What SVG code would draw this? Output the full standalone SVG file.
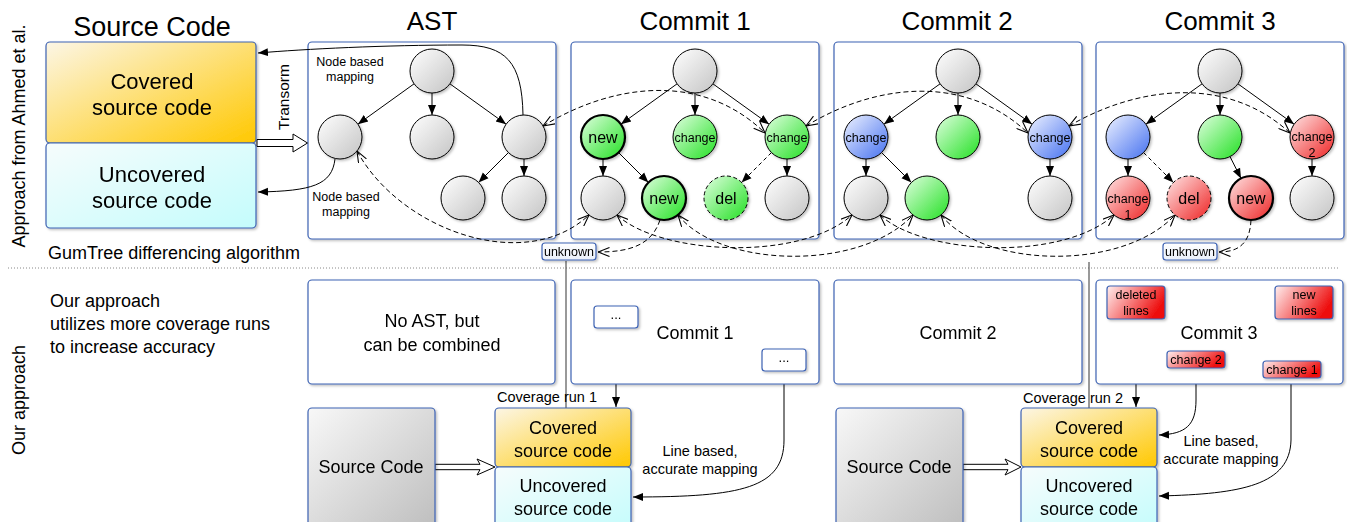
<svg xmlns="http://www.w3.org/2000/svg" width="1347" height="522" viewBox="0 0 1347 522">
<style>
.t{font-family:"Liberation Sans",Arial,sans-serif;fill:#000}
.box{stroke:#3d62b3;stroke-width:1.2}
.nd{stroke:#000;stroke-width:1}
.thick{stroke-width:2.2}
.dsh{stroke-dasharray:4 2.5}
.e{stroke:#000;stroke-width:1;fill:none;marker-end:url(#ah)}
.ed{stroke:#000;stroke-width:1;fill:none;stroke-dasharray:4 3;marker-end:url(#ah)}
.m{stroke:#000;stroke-width:1;fill:none;stroke-dasharray:5 3;marker-end:url(#oa);marker-start:url(#oa)}
.m1{stroke:#000;stroke-width:1;fill:none;stroke-dasharray:5 3;marker-end:url(#oa)}
.ha{fill:#fff;stroke:#000;stroke-width:1}
.sep{stroke:#555;stroke-width:1.2}
.n16{font-size:16px}
.n12{font-size:12.5px}
</style>
<defs>
<linearGradient id="gGray" x1="0" y1="0" x2="1" y2="1"><stop offset="0" stop-color="#ffffff"/><stop offset="1" stop-color="#c4c4c4"/></linearGradient>
<linearGradient id="gGreen" x1="0" y1="0" x2="1" y2="1"><stop offset="0" stop-color="#e0ffe0"/><stop offset="1" stop-color="#22e022"/></linearGradient>
<linearGradient id="gBlue" x1="0" y1="0" x2="1" y2="1"><stop offset="0" stop-color="#eef2ff"/><stop offset="1" stop-color="#4470f0"/></linearGradient>
<linearGradient id="gRed" x1="0" y1="0" x2="1" y2="1"><stop offset="0" stop-color="#ffe6e6"/><stop offset="1" stop-color="#ee2424"/></linearGradient>
<linearGradient id="gCov" x1="0" y1="0" x2="1" y2="1"><stop offset="0" stop-color="#fcf6e6"/><stop offset="1" stop-color="#ffc800"/></linearGradient>
<linearGradient id="gUnc" x1="0" y1="0" x2="1" y2="1"><stop offset="0" stop-color="#f6fcfc"/><stop offset="1" stop-color="#c4fcfc"/></linearGradient>
<linearGradient id="gSrc" x1="0" y1="0" x2="1" y2="1"><stop offset="0" stop-color="#f8f8f8"/><stop offset="1" stop-color="#bdbdbd"/></linearGradient>
<linearGradient id="gRb" x1="0" y1="0" x2="1" y2="0.4"><stop offset="0" stop-color="#fff0f0"/><stop offset="1" stop-color="#ee1010"/></linearGradient>
<linearGradient id="gUnk" x1="0" y1="0" x2="0" y2="1"><stop offset="0" stop-color="#ffffff"/><stop offset="1" stop-color="#eaf0fa"/></linearGradient>
<filter id="sh" x="-20%" y="-20%" width="150%" height="150%"><feDropShadow dx="1.5" dy="1.5" stdDeviation="1.2" flood-color="#000" flood-opacity="0.25"/></filter>
<marker id="ah" viewBox="0 0 10 10" refX="10" refY="5" markerWidth="10" markerHeight="10" orient="auto" markerUnits="userSpaceOnUse"><path d="M0,1 L10,5 L0,9 Z" fill="#000"/></marker>
<marker id="oa" viewBox="0 0 12 10" refX="11.5" refY="5" markerWidth="12" markerHeight="10" orient="auto-start-reverse" markerUnits="userSpaceOnUse"><path d="M0,0.5 L11.5,5 L0,9.5" fill="none" stroke="#000" stroke-width="1.1"/></marker>
</defs>
<rect width="1347" height="522" fill="#fff"/>

<!-- side labels -->
<text class="t" font-size="18" text-anchor="middle" transform="translate(25,136) rotate(-90)">Approach from Ahmed et al.</text>
<text class="t" font-size="18" text-anchor="middle" transform="translate(25,400) rotate(-90)">Our approach</text>
<text class="t" x="48" y="259" font-size="18">GumTree differencing algorithm</text>
<line x1="8" y1="268" x2="1340" y2="268" stroke="#888" stroke-width="1" stroke-dasharray="1 2"/>
<g id="ourText">
<text class="t" font-size="18"><tspan x="50" y="307">Our approach</tspan><tspan x="50" y="330">utilizes more coverage runs</tspan><tspan x="50" y="353">to increase accuracy</tspan></text>
</g>

<!-- titles -->
<text class="t" x="152" y="36" font-size="27" text-anchor="middle">Source Code</text>
<text class="t" x="432" y="30" font-size="26" text-anchor="middle">AST</text>
<text class="t" x="695" y="30" font-size="26" text-anchor="middle">Commit 1</text>
<text class="t" x="957" y="30" font-size="26" text-anchor="middle">Commit 2</text>
<text class="t" x="1220" y="30" font-size="26" text-anchor="middle">Commit 3</text>

<!-- top source code -->
<g id="covTop" filter="url(#sh)">
<rect class="box" x="46" y="42" width="210" height="101" rx="4" fill="url(#gCov)"/>
<text class="t" font-size="22" text-anchor="middle"><tspan x="152" y="89">Covered</tspan><tspan x="152" y="115">source code</tspan></text>
</g>
<g id="uncTop" filter="url(#sh)">
<rect class="box" x="46" y="143" width="210" height="85" rx="4" fill="url(#gUnc)"/>
<text class="t" font-size="22" text-anchor="middle"><tspan x="152" y="182">Uncovered</tspan><tspan x="152" y="208">source code</tspan></text>
</g>

<!-- panels -->
<g id="astBox"><rect class="box" x="308" y="42" width="248" height="197" rx="4" fill="#fff" filter="url(#sh)"/></g>
<g id="c1Box"><rect class="box" x="571" y="42" width="248" height="197" rx="4" fill="#fff" filter="url(#sh)"/></g>
<g id="c2Box"><rect class="box" x="834" y="42" width="248" height="197" rx="4" fill="#fff" filter="url(#sh)"/></g>
<g id="c3Box"><rect class="box" x="1096" y="42" width="248" height="197" rx="4" fill="#fff" filter="url(#sh)"/></g>

<!-- connectors -->
<g id="connectors">
<!-- AST tree -->
<path class="e" d="M414.1,83.8 L357.9,124.2"/>
<path class="e" d="M432,93 L432,115"/>
<path class="e" d="M449.9,83.8 L506.1,124.2"/>
<path class="e" d="M508.4,152.6 L478.6,182.4"/>
<path class="e" d="M524,159 L524,176"/>
<!-- Commit 1 tree -->
<path class="e" d="M677.1,83.8 L620.9,124.2"/>
<path class="e" d="M695,93 L695,115"/>
<path class="e" d="M712.9,83.8 L769.1,124.2"/>
<path class="e" d="M603,159 L603,176"/>
<path class="e" d="M618.6,152.6 L648.4,182.4"/>
<path class="ed" d="M771.4,152.6 L741.6,182.4"/>
<path class="e" d="M787,159 L787,176"/>
<!-- Commit 2 tree -->
<path class="e" d="M940.1,83.8 L883.9,124.2"/>
<path class="e" d="M958,93 L958,115"/>
<path class="e" d="M975.9,83.8 L1032.1,124.2"/>
<path class="e" d="M866,159 L866,176"/>
<path class="e" d="M881.6,152.6 L911.4,182.4"/>
<path class="e" d="M1050,159 L1050,176"/>
<!-- Commit 3 tree -->
<path class="e" d="M1202.1,83.8 L1145.9,124.2"/>
<path class="e" d="M1220,93 L1220,115"/>
<path class="e" d="M1237.9,83.8 L1294.1,124.2"/>
<path class="e" d="M1128,159 L1128,176"/>
<path class="ed" d="M1143.6,152.6 L1173.4,182.4"/>
<path class="e" d="M1230,156.6 L1241,178.4"/>
<path class="e" d="M1312,159 L1312,176"/>
<!-- node based mappings to source -->
<path class="e" d="M523,115 C522,62 506,45 462,45 C385,45 305,49 258,53"/>
<path class="e" d="M335,159 C332,185 312,191 258,192"/>
<!-- transform hollow arrow -->
<path class="ha" d="M257,139.5 L293,139.5 L293,134 L307.5,143 L293,152 L293,146.5 L257,146.5 Z"/>
<!-- dashed mappings top -->
<path class="m" d="M543,126 C610,85 700,70 765,133"/>
<path class="m" d="M806,126 C873,85 963,72 1028,133"/>
<path class="m" d="M1069,126 C1136,87 1226,74 1290,133"/>
<!-- dashed mappings bottom -->
<path class="m" d="M357,151 C400,230 525,275 589,215"/>
<path class="m" d="M617,215 C660,255 800,262 852,215"/>
<path class="m" d="M678,215 C720,268 860,272 913,215"/>
<path class="m" d="M880,215 C923,255 1062,262 1114,215"/>
<path class="m" d="M941,215 C983,268 1122,272 1175,215"/>
<path class="m1" d="M660,220 C652,244 632,252 598,252"/>
<path class="m1" d="M1251,220 C1250,244 1238,252 1219,252"/>
<!-- bottom section -->
<path class="sep" d="M566,261 L566,408"/>
<path class="sep" d="M1089,262 L1089,408"/>
<path class="e" d="M616,328 L616,407"/>
<path class="e" d="M784,371 L784,440 C784,488 742,497 633,497"/>
<path class="e" d="M1136,319 L1136,407"/>
<path class="e" d="M1196,368 L1196,400 C1196,425 1186,434 1159,435"/>
<path class="e" d="M1291,378 L1291,440 C1290,485 1242,494 1159,496"/>
<path class="ha" d="M435,464.3 L480,464.3 L477,459 L495,467 L477,475 L480,469.7 L435,469.7 Z"/>
<path class="ha" d="M963,464.3 L1008,464.3 L1005,459 L1021,467 L1005,475 L1008,469.7 L963,469.7 Z"/>
</g>

<!-- mapping labels -->
<text class="t" font-size="12.5" text-anchor="middle"><tspan x="350" y="66">Node based</tspan><tspan x="350" y="81">mapping</tspan></text>
<text class="t" font-size="12.5" text-anchor="middle"><tspan x="346" y="201">Node based</tspan><tspan x="346" y="216">mapping</tspan></text>
<text class="t" font-size="15.5" text-anchor="middle" transform="translate(289,97) rotate(-90)">Transorm</text>

<!-- AST nodes -->
<g id="ast_root" filter="url(#sh)"><circle class="nd" cx="432" cy="71" r="22" fill="url(#gGray)"/></g>
<g id="ast_m1" filter="url(#sh)"><circle class="nd" cx="340" cy="137" r="22" fill="url(#gGray)"/></g>
<g id="ast_m2" filter="url(#sh)"><circle class="nd" cx="432" cy="137" r="22" fill="url(#gGray)"/></g>
<g id="ast_m3" filter="url(#sh)"><circle class="nd" cx="524" cy="137" r="22" fill="url(#gGray)"/></g>
<g id="ast_b3" filter="url(#sh)"><circle class="nd" cx="463" cy="198" r="22" fill="url(#gGray)"/></g>
<g id="ast_b4" filter="url(#sh)"><circle class="nd" cx="524" cy="198" r="22" fill="url(#gGray)"/></g>

<!-- Commit 1 nodes -->
<g id="c1_root" filter="url(#sh)"><circle class="nd" cx="695" cy="71" r="22" fill="url(#gGray)"/></g>
<g id="c1_m1" filter="url(#sh)"><circle class="nd thick" cx="603" cy="137" r="22" fill="url(#gGreen)"/><text class="t n16" x="603" y="143" text-anchor="middle">new</text></g>
<g id="c1_m2" filter="url(#sh)"><circle class="nd" cx="695" cy="137" r="22" fill="url(#gGreen)"/><text class="t n12" x="695" y="141.5" text-anchor="middle">change</text></g>
<g id="c1_m3" filter="url(#sh)"><circle class="nd" cx="787" cy="137" r="22" fill="url(#gGreen)"/><text class="t n12" x="787" y="141.5" text-anchor="middle">change</text></g>
<g id="c1_b1" filter="url(#sh)"><circle class="nd" cx="603" cy="198" r="22" fill="url(#gGray)"/></g>
<g id="c1_b2" filter="url(#sh)"><circle class="nd thick" cx="664" cy="198" r="22" fill="url(#gGreen)"/><text class="t n16" x="664" y="204" text-anchor="middle">new</text></g>
<g id="c1_b3" filter="url(#sh)"><circle class="nd dsh" cx="726" cy="198" r="22" fill="url(#gGreen)"/><text class="t n16" x="726" y="204" text-anchor="middle">del</text></g>
<g id="c1_b4" filter="url(#sh)"><circle class="nd" cx="787" cy="198" r="22" fill="url(#gGray)"/></g>

<!-- Commit 2 nodes -->
<g id="c2_root" filter="url(#sh)"><circle class="nd" cx="958" cy="71" r="22" fill="url(#gGray)"/></g>
<g id="c2_m1" filter="url(#sh)"><circle class="nd" cx="866" cy="137" r="22" fill="url(#gBlue)"/><text class="t n12" x="866" y="141.5" text-anchor="middle">change</text></g>
<g id="c2_m2" filter="url(#sh)"><circle class="nd" cx="958" cy="137" r="22" fill="url(#gGreen)"/></g>
<g id="c2_m3" filter="url(#sh)"><circle class="nd" cx="1050" cy="137" r="22" fill="url(#gBlue)"/><text class="t n12" x="1050" y="141.5" text-anchor="middle">change</text></g>
<g id="c2_b1" filter="url(#sh)"><circle class="nd" cx="866" cy="198" r="22" fill="url(#gGray)"/></g>
<g id="c2_b2" filter="url(#sh)"><circle class="nd" cx="927" cy="198" r="22" fill="url(#gGreen)"/></g>
<g id="c2_b4" filter="url(#sh)"><circle class="nd" cx="1050" cy="198" r="22" fill="url(#gGray)"/></g>

<!-- Commit 3 nodes -->
<g id="c3_root" filter="url(#sh)"><circle class="nd" cx="1220" cy="71" r="22" fill="url(#gGray)"/></g>
<g id="c3_m1" filter="url(#sh)"><circle class="nd" cx="1128" cy="137" r="22" fill="url(#gBlue)"/></g>
<g id="c3_m2" filter="url(#sh)"><circle class="nd" cx="1220" cy="137" r="22" fill="url(#gGreen)"/></g>
<g id="c3_m3" filter="url(#sh)"><circle class="nd" cx="1312" cy="137" r="22" fill="url(#gRed)"/><text class="t n12" text-anchor="middle"><tspan x="1312" y="141">change</tspan><tspan x="1312" y="157">2</tspan></text></g>
<g id="c3_b1" filter="url(#sh)"><circle class="nd" cx="1128" cy="198" r="22" fill="url(#gRed)"/><text class="t n12" text-anchor="middle"><tspan x="1128" y="203">change</tspan><tspan x="1128" y="219">1</tspan></text></g>
<g id="c3_b2" filter="url(#sh)"><circle class="nd dsh" cx="1189" cy="198" r="22" fill="url(#gRed)"/><text class="t n16" x="1189" y="204" text-anchor="middle">del</text></g>
<g id="c3_b3" filter="url(#sh)"><circle class="nd thick" cx="1251" cy="198" r="22" fill="url(#gRed)"/><text class="t n16" x="1251" y="204" text-anchor="middle">new</text></g>
<g id="c3_b4" filter="url(#sh)"><circle class="nd" cx="1312" cy="198" r="22" fill="url(#gGray)"/></g>

<!-- unknown boxes -->
<g id="unk1" filter="url(#sh)"><rect class="box" x="542" y="243" width="54" height="17" rx="3" fill="url(#gUnk)"/><text class="t n12" x="569" y="256" text-anchor="middle">unknown</text></g>
<g id="unk2" filter="url(#sh)"><rect class="box" x="1163" y="243" width="54" height="17" rx="3" fill="url(#gUnk)"/><text class="t n12" x="1190" y="256" text-anchor="middle">unknown</text></g>

<!-- bottom panels -->
<g id="noAst" filter="url(#sh)"><rect class="box" x="308" y="280" width="247" height="104" rx="4" fill="#fff"/><text class="t" font-size="18" text-anchor="middle"><tspan x="432" y="327">No AST, but</tspan><tspan x="432" y="351">can be combined</tspan></text></g>
<g id="c1Bottom" filter="url(#sh)"><rect class="box" x="571" y="280" width="248" height="104" rx="4" fill="#fff"/><text class="t" x="695" y="339" font-size="18" text-anchor="middle">Commit 1</text></g>
<g id="c2Bottom" filter="url(#sh)"><rect class="box" x="834" y="280" width="248" height="104" rx="4" fill="#fff"/><text class="t" x="958" y="339" font-size="18" text-anchor="middle">Commit 2</text></g>
<g id="c3Bottom" filter="url(#sh)"><rect class="box" x="1096" y="280" width="247" height="104" rx="4" fill="#fff"/><text class="t" x="1219" y="339" font-size="18" text-anchor="middle">Commit 3</text></g>

<g id="dotsA" filter="url(#sh)"><rect class="box" x="594" y="306" width="44" height="22" rx="3" fill="#fff"/><text class="t" x="616" y="319" font-size="13" text-anchor="middle">...</text></g>
<g id="dotsB" filter="url(#sh)"><rect class="box" x="762" y="349" width="44" height="22" rx="3" fill="#fff"/><text class="t" x="784" y="362" font-size="13" text-anchor="middle">...</text></g>

<g id="delLines" filter="url(#sh)"><rect class="box" x="1107" y="286" width="58" height="33" rx="3" fill="url(#gRb)"/><text class="t n12" text-anchor="middle"><tspan x="1136" y="299">deleted</tspan><tspan x="1136" y="315">lines</tspan></text></g>
<g id="newLines" filter="url(#sh)"><rect class="box" x="1275" y="286" width="58" height="33" rx="3" fill="url(#gRb)"/><text class="t n12" text-anchor="middle"><tspan x="1304" y="299">new</tspan><tspan x="1304" y="315">lines</tspan></text></g>
<g id="chg2" filter="url(#sh)"><rect class="box" x="1167" y="351" width="58" height="17" rx="3" fill="url(#gRb)"/><text class="t n12" x="1196" y="364" text-anchor="middle">change 2</text></g>
<g id="chg1" filter="url(#sh)"><rect class="box" x="1263" y="361" width="58" height="17" rx="3" fill="url(#gRb)"/><text class="t n12" x="1292" y="374" text-anchor="middle">change 1</text></g>

<!-- bottom source code, run 1 -->
<g id="src1" filter="url(#sh)"><rect class="box" x="308" y="408" width="127" height="125" rx="4" fill="url(#gSrc)"/><text class="t" x="371" y="473" font-size="18" text-anchor="middle">Source Code</text></g>
<g id="cov1" filter="url(#sh)"><rect class="box" x="495" y="408" width="136" height="59" rx="4" fill="url(#gCov)"/><text class="t" font-size="18" text-anchor="middle"><tspan x="563" y="434">Covered</tspan><tspan x="563" y="457">source code</tspan></text></g>
<g id="unc1" filter="url(#sh)"><rect class="box" x="495" y="467" width="136" height="66" rx="4" fill="url(#gUnc)"/><text class="t" font-size="18" text-anchor="middle"><tspan x="563" y="492">Uncovered</tspan><tspan x="563" y="515">source code</tspan></text></g>
<text class="t" x="497" y="402" font-size="14.5">Coverage run 1</text>
<text class="t" font-size="14.5" text-anchor="middle"><tspan x="700" y="456">Line based,</tspan><tspan x="700" y="474">accurate mapping</tspan></text>

<!-- bottom source code, run 2 -->
<g id="src2" filter="url(#sh)"><rect class="box" x="836" y="408" width="127" height="125" rx="4" fill="url(#gSrc)"/><text class="t" x="899" y="473" font-size="18" text-anchor="middle">Source Code</text></g>
<g id="cov2" filter="url(#sh)"><rect class="box" x="1021" y="408" width="136" height="59" rx="4" fill="url(#gCov)"/><text class="t" font-size="18" text-anchor="middle"><tspan x="1089" y="434">Covered</tspan><tspan x="1089" y="457">source code</tspan></text></g>
<g id="unc2" filter="url(#sh)"><rect class="box" x="1021" y="467" width="136" height="66" rx="4" fill="url(#gUnc)"/><text class="t" font-size="18" text-anchor="middle"><tspan x="1089" y="492">Uncovered</tspan><tspan x="1089" y="515">source code</tspan></text></g>
<text class="t" x="1023" y="403" font-size="14.5">Coverage run 2</text>
<text class="t" font-size="14.5" text-anchor="middle"><tspan x="1221" y="446">Line based,</tspan><tspan x="1221" y="464">accurate mapping</tspan></text>
</svg>
